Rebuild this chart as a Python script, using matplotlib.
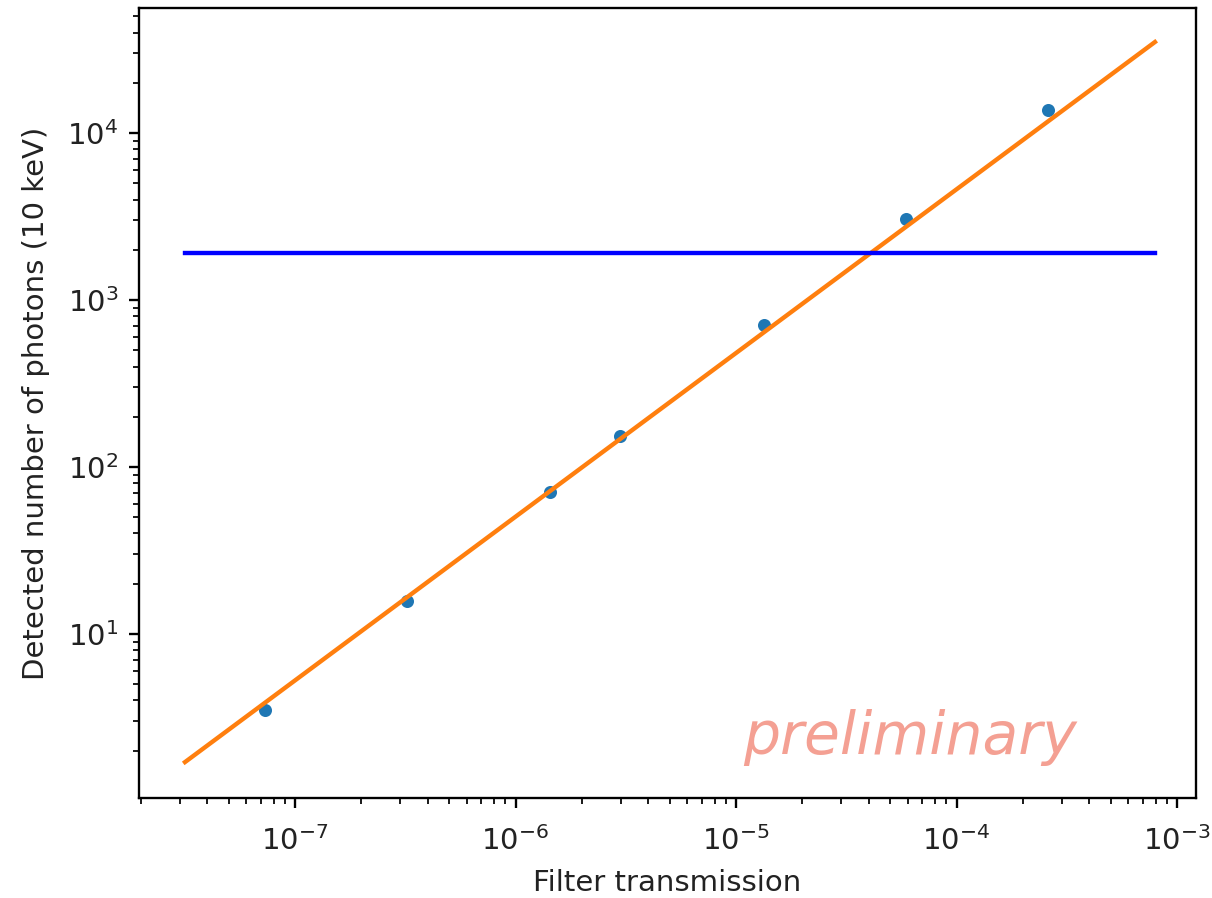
import matplotlib
matplotlib.use("Agg")
import matplotlib.pyplot as plt

# Measured data points
transmission = [7.3e-8, 3.22e-7, 1.43e-6, 2.99e-6, 1.34e-5, 5.87e-5, 2.61e-4]
photons = [3.5, 15.8, 70.8, 153, 708, 3055, 13700]

# Fit line endpoints
fit_x = [3.17e-8, 7.94e-4]
fit_y = [1.71, 35100]

# Horizontal threshold
threshold = 1910

DPI = 210
fig = plt.figure(figsize=(1212 / DPI, 898 / DPI), dpi=DPI)
ax = fig.add_axes([139 / 1212, 1 - 798 / 898, (1196 - 139) / 1212, (798 - 8) / 898])

ax.scatter(transmission, photons, s=12, color="#1f77b4", zorder=1)
ax.plot(fit_x, fit_y, color="#ff7f0e", zorder=2)
ax.plot(fit_x, [threshold, threshold], color="blue", zorder=2)

ax.set_xscale("log")
ax.set_yscale("log")
ax.set_xlim(10 ** -7.7075, 10 ** -2.914)
ax.set_ylim(10 ** 0.018, 10 ** 4.749)
ax.set_xlabel("Filter transmission", color="#222222", labelpad=4.5)
ax.set_ylabel("Detected number of photons (10 keV)", color="#222222", labelpad=6)
ax.tick_params(labelcolor="#222222")
ax.tick_params(axis="x", which="major", pad=6)

ax.text((910 - 139) / 1057, (798 - 737) / 790, "preliminary", transform=ax.transAxes,
        ha="center", va="center", fontsize=20, style="oblique", family="DejaVu Sans",
        color="#f4a093")

fig.savefig("out.png", dpi=DPI)
